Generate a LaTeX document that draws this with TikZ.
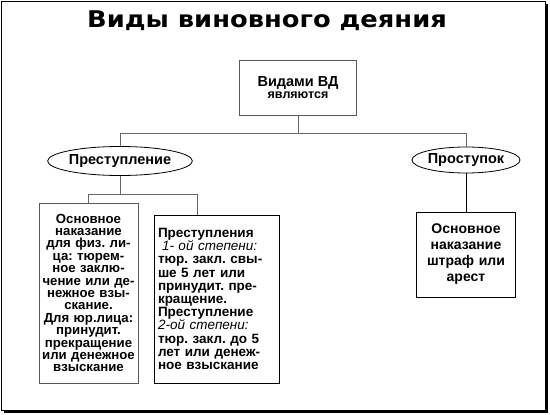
\documentclass[tikz,border=0pt]{standalone}
\usepackage{fontspec}
\usepackage{graphicx}
\setmainfont{Liberation Sans}
\newfontfamily\titlefont{DejaVu Sans}
\usetikzlibrary{shapes.geometric}
\frenchspacing

\begin{document}
\begin{tikzpicture}[x=1pt, y=-1pt,
  every node/.style={font=\bfseries\fontsize{14}{12.4}\selectfont, align=center, inner sep=0pt},
  box/.style={draw, rectangle, line width=0.8pt},
  graybox/.style={box, draw=black!65},
  oval/.style={draw, ellipse, line width=0.8pt},
  link/.style={draw=black!60, line width=0.9pt}
]
\useasboundingbox (0,0) rectangle (550,415);
% slide frame with shadow
\fill[black] (4,4) rectangle (548,413);
\draw[fill=white, line width=0.8pt] (1,1) rectangle (545,410);

\node[font=\titlefont\bfseries\fontsize{23}{24}\selectfont] (title) at (267,21)
  {\scalebox{1.12}[1]{Виды виновного деяния}};

\node[graybox, minimum width=117, minimum height=55, font=\bfseries\fontsize{14.5}{12}\selectfont] (vd) at (298,87.5)
  {Видами ВД\\\fontsize{12.5}{11}\selectfont являются};

\node[oval, minimum width=111, minimum height=29, font=\bfseries\fontsize{14.5}{14}\selectfont] (prest) at (120,161) {Преступление};
\node[oval, minimum width=99, minimum height=26, font=\bfseries\fontsize{14.5}{14}\selectfont] (prostup) at (466,160) {Проступок};

\node[graybox, minimum width=99, minimum height=180, text width=99, font=\bfseries\fontsize{13.2}{12.4}\selectfont] (lbox) at (88.5,293)
  {Основное\\наказание\\для физ. ли-\\ца: тюрем-\\ное заклю-\\чение или де-\\нежное взы-\\скание.\\Для юр.лица:\\принудит.\\прекращение\\или денежное\\взыскание};
\node[box, minimum width=125, minimum height=168, text width=117, align=left, font=\bfseries\fontsize{13.5}{13.2}\selectfont] (mbox) at (216.5,299)
  {Преступления\\
   \hspace*{4pt}{\mdseries\itshape 1- ой степени:}\\
   тюр. закл. свы-\\ше 5 лет или\\принудит. пре-\\кращение.\\Преступление\\
   {\mdseries\itshape 2-ой степени:}\\
   тюр. закл. до 5\\лет или денеж-\\ное взыскание};
\node[box, minimum width=99, minimum height=85, text width=95, font=\bfseries\fontsize{14}{16}\selectfont] (rbox) at (466,254.5)
  {Основное\\наказание\\штраф или\\арест};

\coordinate (bus) at (298,133);
\coordinate (lbus) at (120,194);

\draw[link] (vd) -- (bus);
\draw[link] (bus) -| (prest);
\draw[link] (bus) -| (prostup);
\draw[link] (prest) -- (lbus);
\draw[link] (lbus) -| (lbox);
\draw[link] (lbus) -| ([xshift=-19.5pt]mbox.north);
\draw[line width=0.8pt] (prostup) -- (rbox);
\end{tikzpicture}
\end{document}
